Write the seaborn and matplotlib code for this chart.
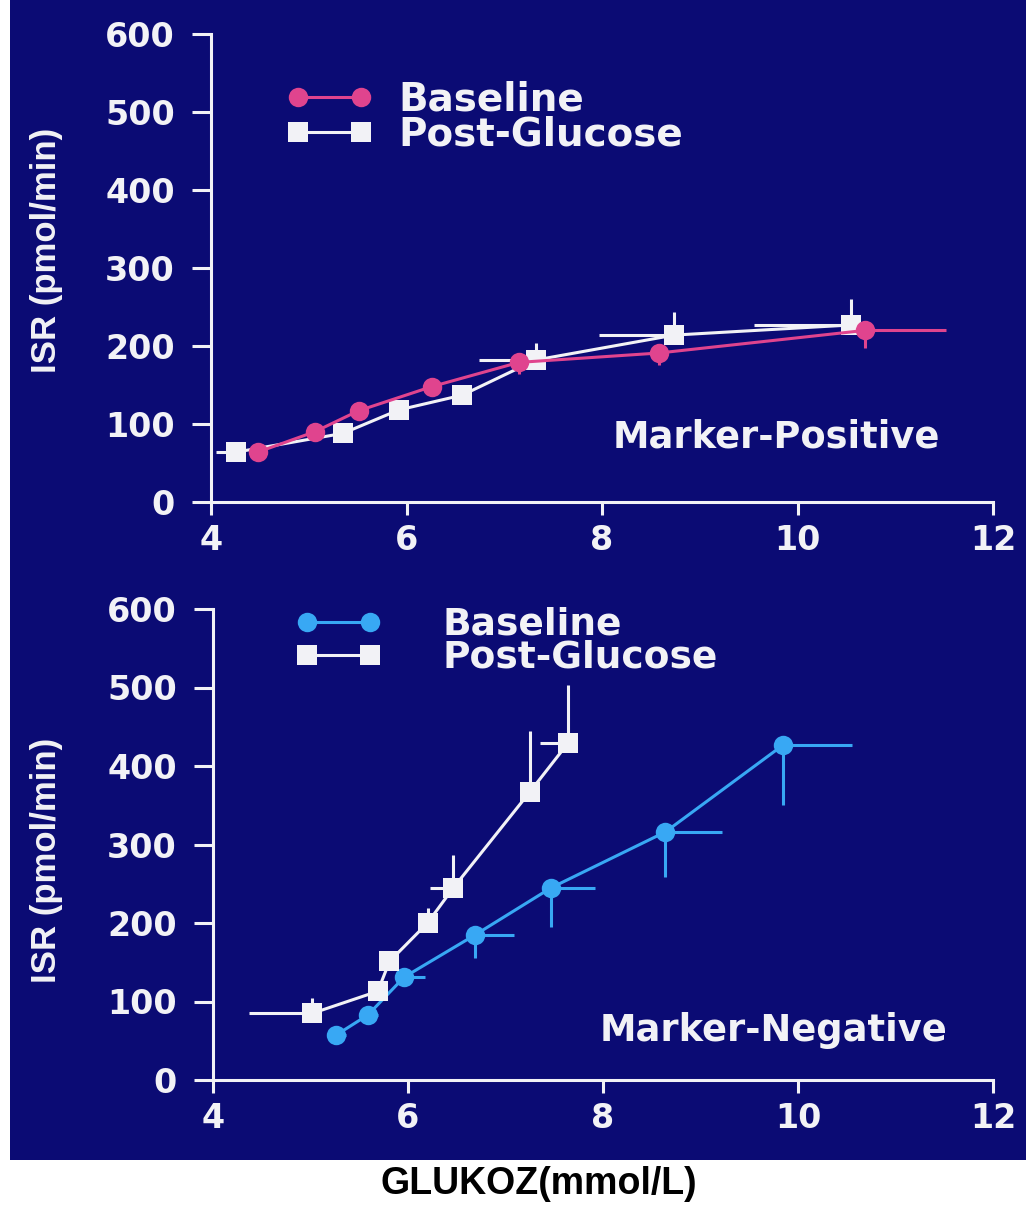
import numpy as np
import pandas as pd
import seaborn as sns
import matplotlib
matplotlib.use("Agg")
import matplotlib.pyplot as plt
from matplotlib.lines import Line2D
from matplotlib.patches import Rectangle

# ---------------- data ----------------
pos_base_x = [4.48, 5.06, 5.51, 6.26, 7.15, 8.58, 10.69]
pos_base_y = [64, 90, 117, 148, 179, 191, 220]
pos_base_xerr_right = [0, 0, 0, 0, 0.05, 0.1, 0.83]
pos_base_yerr_down = [0, 0, 0, 0, 15, 15, 23]

pos_post_x = [4.26, 5.35, 5.92, 6.57, 7.32, 8.74, 10.55]
pos_post_y = [64, 88, 118, 137, 182, 214, 227]
pos_post_xerr_left = [0.21, 0, 0, 0, 0.58, 0.77, 0.99]
pos_post_yerr_up = [0, 0, 0, 0, 22, 30, 33]

neg_base_x = [5.26, 5.59, 5.96, 6.69, 7.47, 8.64, 9.85]
neg_base_y = [57, 83, 131, 185, 245, 316, 427]
neg_base_xerr_right = [0.1, 0.1, 0.21, 0.40, 0.45, 0.58, 0.70]
neg_base_yerr_down = [0, 0, 0, 29, 50, 57, 77]

neg_post_x = [5.02, 5.69, 5.81, 6.20, 6.46, 7.25, 7.64]
neg_post_y = [85, 113, 151, 200, 244, 367, 429]
neg_post_xerr_left = [0.65, 0.05, 0.05, 0.1, 0.23, 0.1, 0.29]
neg_post_yerr_up = [20, 0, 12, 19, 43, 77, 74]

x_ticks = [4, 6, 8, 10, 12]
y_ticks = [0, 100, 200, 300, 400, 500, 600]
legend_labels = ["Baseline", "Post-Glucose"]
panel_labels = ["Marker-Positive", "Marker-Negative"]
y_label = "ISR (pmol/min)"
x_label = "GLUKOZ(mmol/L)"

# ---------------- style ----------------
sns.set_theme(style="ticks")
plt.rcParams["font.family"] = ["DejaVu Sans"]

NAVY = "#0b0b74"
PINK = "#e0448e"
BLUE = "#38a8f4"
WHITE = "#f2f2f6"

fig = plt.figure(figsize=(10.26, 12.12), dpi=100, facecolor="white")
fig.patches.append(Rectangle((10 / 1026, 1 - 1160 / 1212), 1 - 10 / 1026, 1160 / 1212,
                             transform=fig.transFigure, facecolor=NAVY,
                             edgecolor="none", zorder=-10))

ax_top = fig.add_axes([211 / 1026, 1 - 502 / 1212, 782 / 1026, 468 / 1212])
ax_bot = fig.add_axes([213 / 1026, 1 - 1080 / 1212, 780 / 1026, 471 / 1212])


def draw_series(ax, x, y, xerr, yerr, color, marker, ms, z):
    ax.errorbar(x, y, xerr=xerr, yerr=yerr, fmt="none", ecolor=color,
                elinewidth=2.2, capsize=0, zorder=z, clip_on=False)
    df = pd.DataFrame({"x": x, "y": y})
    sns.lineplot(data=df, x="x", y="y", ax=ax, sort=False, estimator=None,
                 color=color, lw=2.2, marker=marker, markersize=ms,
                 markeredgewidth=0, markerfacecolor=color, zorder=z + 0.5,
                 legend=False)
    for ln in ax.lines:
        ln.set_clip_on(False)


def zeros(n):
    return [0] * n


# top: Marker-Positive
draw_series(ax_top, pos_post_x, pos_post_y,
            [pos_post_xerr_left, zeros(7)], [zeros(7), pos_post_yerr_up],
            WHITE, "s", 15, 3)
draw_series(ax_top, pos_base_x, pos_base_y,
            [zeros(7), pos_base_xerr_right], [pos_base_yerr_down, zeros(7)],
            PINK, "o", 14, 5)

# bottom: Marker-Negative
draw_series(ax_bot, neg_base_x, neg_base_y,
            [zeros(7), neg_base_xerr_right], [neg_base_yerr_down, zeros(7)],
            BLUE, "o", 14, 3)
draw_series(ax_bot, neg_post_x, neg_post_y,
            [neg_post_xerr_left, zeros(7)], [zeros(7), neg_post_yerr_up],
            WHITE, "s", 15, 5)

# (axis, colour, label, label x, label y, legend anchor, legend font size, text gap px)
settings = [(ax_top, PINK, panel_labels[0], 0.514, 0.139, (0.096, 0.90), 28, 38),
            (ax_bot, BLUE, panel_labels[1], 0.496, 0.106, (0.106, 1.005), 27, 73)]
for ax, bcol, plabel, lx, ly, anchor, lfs, gap in settings:
    ax.set_facecolor("none")
    ax.set_xlim(4, 12)
    ax.set_ylim(0, 600)
    ax.set_xticks(x_ticks)
    ax.set_yticks(y_ticks)
    ax.set_xticklabels([str(t) for t in x_ticks])
    ax.set_yticklabels([str(t) for t in y_ticks])
    ax.set_xlabel("")
    ax.set_ylabel("")
    sns.despine(ax=ax)
    for s in ["left", "bottom"]:
        ax.spines[s].set_color(WHITE)
        ax.spines[s].set_linewidth(2.2)
    ax.tick_params(axis="both", colors=WHITE, width=2.2, labelsize=24)
    ax.tick_params(axis="y", length=14, pad=12)
    ax.tick_params(axis="x", length=9, pad=7)
    for lab in ax.get_xticklabels() + ax.get_yticklabels():
        lab.set_fontweight("bold")
        lab.set_color(WHITE)
    ax.text(lx, ly, plabel, transform=ax.transAxes, color=WHITE, fontsize=26.5,
            fontweight="bold", va="center", ha="left")
    handles = [Line2D([], [], color=bcol, marker="o", ms=14, lw=2.2, markeredgewidth=0),
               Line2D([], [], color=WHITE, marker="s", ms=15, lw=2.2, markeredgewidth=0)]
    fpx = lfs * 100 / 72.0
    pad = 0.3 * fpx
    hl = (63 + 2 * pad) / fpx
    htp = (gap - pad) / fpx
    ax.legend(handles, legend_labels, loc="upper left", bbox_to_anchor=anchor,
              frameon=False, numpoints=2, handlelength=hl, handletextpad=htp,
              labelspacing=-0.08, borderpad=0.0, borderaxespad=0.0,
              prop={"weight": "bold", "size": lfs}, labelcolor=WHITE)

fig.text(47 / 1026, 1 - 250 / 1212, y_label, rotation=90, color=WHITE,
         fontsize=25, fontweight="bold", family=["Liberation Sans"],
         ha="center", va="center")
fig.text(47 / 1026, 1 - 860 / 1212, y_label, rotation=90, color=WHITE,
         fontsize=25, fontweight="bold", family=["Liberation Sans"],
         ha="center", va="center")
fig.text(539 / 1026, 1 - 1184 / 1212, x_label, color="black", fontsize=27,
         fontweight="bold", family=["Liberation Sans"], ha="center", va="center")

fig.savefig("out.png", dpi=100, facecolor="white")
